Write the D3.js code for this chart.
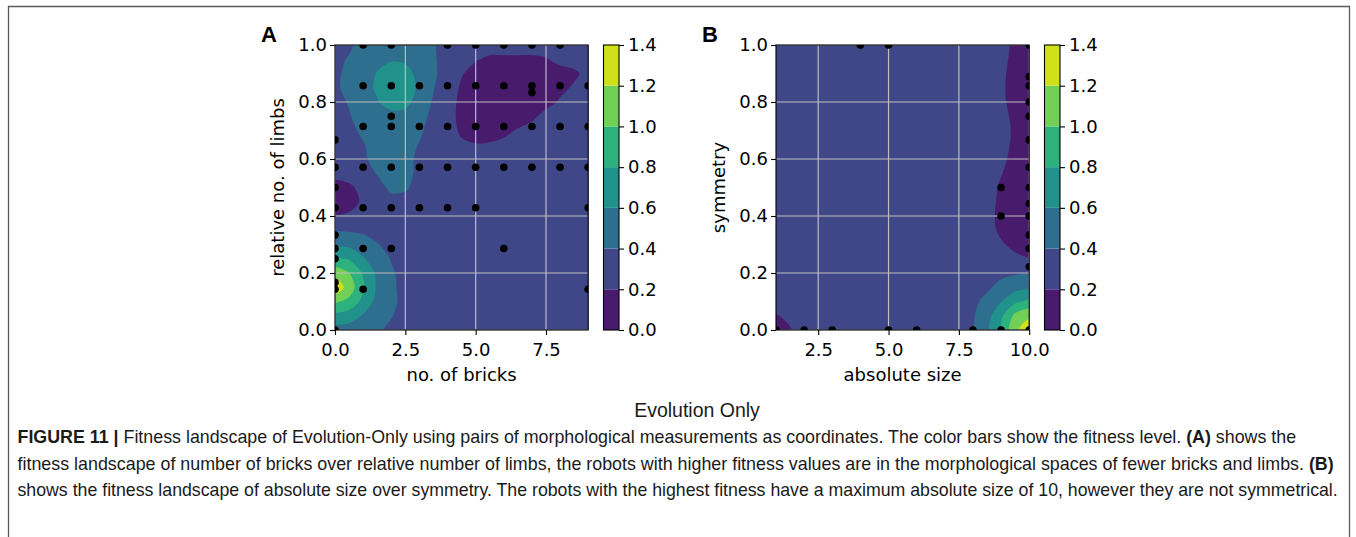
<!DOCTYPE html>
<html>
<head>
<meta charset="utf-8">
<script src="https://cdn.jsdelivr.net/npm/d3@7"></script>
<style>
  body { margin: 0; background: #fff; }
  .mpl text { font-family: "DejaVu Sans", sans-serif; font-size: 18px; fill: #000; }
  .cap text { font-family: "Liberation Sans", Arial, sans-serif; fill: #1a1a1a; }
</style>
</head>
<body>
<svg id="fig" width="1356" height="537"></svg>
<script>
// ---- data ----
const levels = [0, 0.2, 0.4, 0.6, 0.8, 1.0, 1.2, 1.4];

// panel A: fitness over no. of bricks (x 0..9, step 0.5) / relative no. of limbs (rows from y=1.0 down to 0.0, step 0.05)
const bricksRange = [0, 9];
const fitnessA = [
  [0.32,0.36,0.50,0.53,0.55,0.54,0.50,0.42,0.30,0.28,0.26,0.25,0.25,0.25,0.25,0.26,0.27,0.28,0.29],
  [0.34,0.42,0.50,0.55,0.58,0.56,0.50,0.43,0.30,0.26,0.21,0.18,0.18,0.18,0.18,0.19,0.24,0.27,0.29],
  [0.36,0.45,0.52,0.61,0.70,0.68,0.53,0.44,0.29,0.21,0.15,0.12,0.11,0.11,0.12,0.13,0.15,0.17,0.25],
  [0.37,0.45,0.55,0.62,0.72,0.68,0.57,0.41,0.28,0.18,0.12,0.10,0.10,0.10,0.10,0.12,0.16,0.22,0.28],
  [0.36,0.41,0.49,0.59,0.68,0.66,0.52,0.38,0.27,0.16,0.10,0.08,0.08,0.08,0.09,0.14,0.22,0.27,0.29],
  [0.33,0.39,0.46,0.52,0.54,0.53,0.47,0.35,0.27,0.15,0.10,0.08,0.08,0.09,0.16,0.26,0.28,0.29,0.30],
  [0.32,0.36,0.43,0.49,0.51,0.50,0.44,0.30,0.28,0.17,0.12,0.11,0.14,0.22,0.27,0.29,0.30,0.30,0.30],
  [0.30,0.33,0.39,0.46,0.49,0.47,0.39,0.30,0.29,0.23,0.21,0.22,0.26,0.29,0.30,0.30,0.30,0.30,0.30],
  [0.28,0.30,0.37,0.46,0.48,0.46,0.36,0.30,0.30,0.30,0.30,0.30,0.30,0.30,0.30,0.30,0.30,0.30,0.30],
  [0.25,0.27,0.33,0.41,0.46,0.44,0.37,0.30,0.30,0.30,0.30,0.30,0.30,0.30,0.30,0.30,0.30,0.30,0.30],
  [0.14,0.17,0.25,0.35,0.43,0.42,0.35,0.30,0.30,0.30,0.30,0.30,0.30,0.30,0.30,0.30,0.30,0.30,0.30],
  [0.10,0.15,0.22,0.30,0.36,0.35,0.32,0.30,0.30,0.30,0.30,0.30,0.30,0.30,0.30,0.30,0.30,0.30,0.30],
  [0.21,0.22,0.27,0.30,0.31,0.30,0.30,0.30,0.30,0.30,0.30,0.30,0.30,0.30,0.30,0.30,0.30,0.30,0.30],
  [0.39,0.38,0.36,0.33,0.31,0.30,0.30,0.30,0.30,0.30,0.30,0.30,0.30,0.30,0.30,0.30,0.30,0.30,0.30],
  [0.57,0.55,0.50,0.41,0.35,0.32,0.30,0.30,0.30,0.30,0.30,0.30,0.30,0.30,0.30,0.30,0.30,0.30,0.30],
  [0.83,0.78,0.62,0.50,0.39,0.33,0.30,0.30,0.30,0.30,0.30,0.30,0.30,0.30,0.30,0.30,0.30,0.30,0.30],
  [1.12,1.01,0.78,0.56,0.42,0.35,0.30,0.30,0.30,0.30,0.30,0.30,0.30,0.30,0.30,0.30,0.30,0.30,0.30],
  [1.35,1.11,0.83,0.57,0.43,0.35,0.30,0.30,0.30,0.30,0.30,0.30,0.30,0.30,0.30,0.30,0.30,0.30,0.30],
  [1.03,0.95,0.74,0.54,0.43,0.36,0.31,0.30,0.30,0.30,0.30,0.30,0.30,0.30,0.30,0.30,0.30,0.30,0.30],
  [0.74,0.70,0.58,0.48,0.41,0.34,0.30,0.30,0.30,0.30,0.30,0.30,0.30,0.30,0.30,0.30,0.30,0.30,0.30],
  [0.52,0.51,0.46,0.43,0.37,0.33,0.30,0.30,0.30,0.30,0.30,0.30,0.30,0.30,0.30,0.30,0.30,0.30,0.30]
];
const robotsA = [
  [1,1],[2,1],[4,1],[5,1],[6,1],[7,1],[8,1],
  [1,0.857],[2,0.857],[3,0.857],[4,0.857],[5,0.857],[6,0.857],[7,0.857],[8,0.857],[9,0.857],
  [7,0.833],[2,0.75],
  [1,0.714],[2,0.714],[3,0.714],[4,0.714],[5,0.714],[6,0.714],[7,0.714],[8,0.714],[9,0.714],
  [0,0.667],
  [0,0.571],[1,0.571],[2,0.571],[3,0.571],[4,0.571],[5,0.571],[6,0.571],[7,0.571],[8,0.571],[9,0.571],
  [0,0.5],
  [0,0.429],[1,0.429],[2,0.429],[3,0.429],[4,0.429],[5,0.429],[9,0.429],
  [0,0.333],
  [0,0.286],[1,0.286],[2,0.286],[6,0.286],
  [0,0.25],[0,0.167],
  [0,0.143],[1,0.143],[9,0.143],
  [0,0]
];

// panel B: fitness over absolute size (x 1..10, step 0.5) / symmetry (rows from 1.0 down to 0.0)
const sizeRange = [1, 10];
const fitnessB = [
  [0.30,0.30,0.30,0.30,0.30,0.30,0.30,0.30,0.30,0.30,0.30,0.30,0.30,0.30,0.30,0.30,0.28,0.15,0.10],
  [0.30,0.30,0.30,0.30,0.30,0.30,0.30,0.30,0.30,0.30,0.30,0.30,0.30,0.30,0.30,0.29,0.26,0.14,0.09],
  [0.30,0.30,0.30,0.30,0.30,0.30,0.30,0.30,0.30,0.30,0.30,0.30,0.30,0.30,0.30,0.28,0.24,0.13,0.09],
  [0.30,0.30,0.30,0.30,0.30,0.30,0.30,0.30,0.30,0.30,0.30,0.30,0.30,0.30,0.30,0.28,0.23,0.13,0.09],
  [0.30,0.30,0.30,0.30,0.30,0.30,0.30,0.30,0.30,0.30,0.30,0.30,0.30,0.30,0.30,0.28,0.24,0.13,0.09],
  [0.30,0.30,0.30,0.30,0.30,0.30,0.30,0.30,0.30,0.30,0.30,0.30,0.30,0.30,0.30,0.29,0.28,0.14,0.09],
  [0.30,0.30,0.30,0.30,0.30,0.30,0.30,0.30,0.30,0.30,0.30,0.30,0.30,0.30,0.30,0.30,0.29,0.16,0.10],
  [0.30,0.30,0.30,0.30,0.30,0.30,0.30,0.30,0.30,0.30,0.30,0.30,0.30,0.30,0.30,0.30,0.28,0.15,0.10],
  [0.30,0.30,0.30,0.30,0.30,0.30,0.30,0.30,0.30,0.30,0.30,0.30,0.30,0.30,0.30,0.29,0.25,0.13,0.09],
  [0.30,0.30,0.30,0.30,0.30,0.30,0.30,0.30,0.30,0.30,0.30,0.30,0.30,0.30,0.30,0.27,0.21,0.12,0.09],
  [0.30,0.30,0.30,0.30,0.30,0.30,0.30,0.30,0.30,0.30,0.30,0.30,0.30,0.30,0.30,0.30,0.17,0.12,0.10],
  [0.30,0.30,0.30,0.30,0.30,0.30,0.30,0.30,0.30,0.30,0.30,0.30,0.30,0.30,0.30,0.27,0.16,0.11,0.10],
  [0.30,0.30,0.30,0.30,0.30,0.30,0.30,0.30,0.30,0.30,0.30,0.30,0.30,0.30,0.30,0.25,0.16,0.11,0.10],
  [0.30,0.30,0.30,0.30,0.30,0.30,0.30,0.30,0.30,0.30,0.30,0.30,0.30,0.30,0.30,0.30,0.15,0.12,0.11],
  [0.30,0.30,0.30,0.30,0.30,0.30,0.30,0.30,0.30,0.30,0.30,0.30,0.30,0.30,0.30,0.30,0.23,0.14,0.12],
  [0.30,0.30,0.30,0.30,0.30,0.30,0.30,0.30,0.30,0.30,0.30,0.30,0.30,0.30,0.30,0.31,0.28,0.25,0.21],
  [0.30,0.30,0.30,0.30,0.30,0.30,0.30,0.30,0.30,0.30,0.30,0.30,0.30,0.30,0.30,0.32,0.36,0.38,0.39],
  [0.30,0.30,0.30,0.30,0.30,0.30,0.30,0.30,0.30,0.30,0.30,0.30,0.30,0.30,0.32,0.37,0.45,0.53,0.56],
  [0.28,0.30,0.30,0.30,0.30,0.30,0.30,0.30,0.30,0.30,0.30,0.30,0.30,0.31,0.36,0.45,0.59,0.76,0.84],
  [0.19,0.23,0.30,0.30,0.30,0.30,0.30,0.30,0.30,0.30,0.30,0.30,0.30,0.32,0.38,0.53,0.76,1.05,1.15],
  [0.12,0.19,0.28,0.30,0.30,0.30,0.30,0.30,0.30,0.30,0.30,0.30,0.30,0.32,0.39,0.56,0.83,1.14,1.36]
];
const robotsB = [
  [4,1],[5,1],[10,1],[10,0.889],[10,0.857],[10,0.8],[10,0.75],[10,0.667],[10,0.571],
  [10,0.5],[9,0.5],[10,0.444],[10,0.4],[9,0.4],[10,0.333],[10,0.286],[10,0.222],
  [1,0],[2,0],[3,0],[5,0],[6,0],[8,0],[9,0],[10,0]
];

const xTicksA = [0, 2.5, 5, 7.5];
const xTicksB = [2.5, 5, 7.5, 10];
const yTicks = [0, 0.2, 0.4, 0.6, 0.8, 1.0];

const captionLines = [
  [["FIGURE 11 | ", true], ["Fitness landscape of Evolution-Only using pairs of morphological measurements as coordinates. The color bars show the fitness level. ", false], ["(A)", true], [" shows the", false]],
  [["fitness landscape of number of bricks over relative number of limbs, the robots with higher fitness values are in the morphological spaces of fewer bricks and limbs. ", false], ["(B)", true]],
  [["shows the fitness landscape of absolute size over symmetry. The robots with the highest fitness have a maximum absolute size of 10, however they are not symmetrical.", false]]
];

// ---- drawing ----
const svg = d3.select("#fig");
const bandColor = k => d3.interpolateViridis((k + 0.5) / (levels.length - 1));
const fmt = d3.format(".1f");

// frame around the figure
svg.append("path")
  .attr("d", "M8.5,540 V6.5 H1349.5 V540")
  .attr("fill", "none").attr("stroke", "#5a5a5a").attr("stroke-width", 1.3);

function panel(opt) {
  const g = svg.append("g").attr("class", "mpl");
  const xs = d3.scaleLinear().domain(opt.xRange).range([opt.left, opt.left + 253.2]);
  const ys = d3.scaleLinear().domain([0, 1]).range([330, 45]);

  g.append("clipPath").attr("id", opt.id)
    .append("rect").attr("x", xs.range()[0]).attr("y", 45)
    .attr("width", 253.2).attr("height", 285);

  const body = g.append("g").attr("clip-path", `url(#${opt.id})`);

  // contour bands: pad grid by mirroring so the smoothed rings close outside the plot
  const rows = opt.grid;
  const nx = rows[0].length, ny = rows.length;
  const src = [rows[1], ...rows, rows[ny - 2]];
  const values = src.map(r => [r[1], ...r, r[nx - 2]]).flat();
  const stepX = (opt.xRange[1] - opt.xRange[0]) / (nx - 1);
  const stepY = 1 / (ny - 1);
  const toPx = p => [xs(opt.xRange[0] + (p[0] - 1.5) * stepX), ys(1 - (p[1] - 1.5) * stepY)];
  const ringLine = d3.line().curve(d3.curveCatmullRomClosed.alpha(0.5));

  body.append("rect")
    .attr("x", xs.range()[0] - 2).attr("y", 43).attr("width", 258).attr("height", 290)
    .attr("fill", bandColor(0));

  const bands = d3.contours().size([nx + 2, ny + 2])
    .thresholds(levels.slice(1, -1))(values);
  bands.forEach(b => {
    const k = levels.indexOf(b.value);
    const d = b.coordinates.map(poly => poly.map(ring => ringLine(ring.slice(0, -1).map(toPx))).join("")).join("");
    if (!d) return;
    body.append("path").attr("d", d).attr("fill", bandColor(k)).attr("fill-rule", "evenodd");
  });

  // grid
  body.selectAll(".gx").data(opt.xTicks).enter().append("line")
    .attr("x1", d => xs(d)).attr("x2", d => xs(d)).attr("y1", 45).attr("y2", 330)
    .attr("stroke", "#bdbdbd").attr("stroke-width", 1.2);
  body.selectAll(".gy").data(yTicks).enter().append("line")
    .attr("y1", d => ys(d)).attr("y2", d => ys(d)).attr("x1", xs.range()[0]).attr("x2", xs.range()[1])
    .attr("stroke", "#bdbdbd").attr("stroke-width", 1.2);

  // robots
  body.selectAll("circle").data(opt.dots).enter().append("circle")
    .attr("cx", d => xs(d[0])).attr("cy", d => ys(d[1])).attr("r", 3.8).attr("fill", "#000");

  // spines
  g.append("rect").attr("x", xs.range()[0]).attr("y", 45).attr("width", 253.2).attr("height", 285)
    .attr("fill", "none").attr("stroke", "#000").attr("stroke-width", 1.1);

  const xAxis = d3.axisBottom(xs).tickValues(opt.xTicks).tickFormat(fmt).tickSize(5).tickSizeOuter(0).tickPadding(8);
  const yAxis = d3.axisLeft(ys).tickValues(yTicks).tickFormat(fmt).tickSize(5).tickSizeOuter(0).tickPadding(3);
  const ax = g.append("g").attr("transform", "translate(0,330)").call(xAxis);
  const ay = g.append("g").attr("transform", `translate(${xs.range()[0]},0)`).call(yAxis);
  [ax, ay].forEach(a => {
    a.select(".domain").remove();
    a.selectAll("text").attr("font-family", null).attr("font-size", null);
    a.selectAll("line").attr("stroke", "#000").attr("stroke-width", 1.1);
  });

  g.append("text").attr("x", (xs.range()[0] + xs.range()[1]) / 2).attr("y", 381)
    .attr("text-anchor", "middle").text(opt.xLabel);
  g.append("text").attr("transform", `translate(${opt.left - 51.5},187.5) rotate(-90)`)
    .attr("text-anchor", "middle").text(opt.yLabel);

  // colour bar
  const cb = d3.scaleLinear().domain([0, 1.4]).range([330, 45]);
  const cbx = opt.left + 268.5;
  g.selectAll(".band").data(levels.slice(0, -1)).enter().append("rect")
    .attr("x", cbx).attr("width", 15.5)
    .attr("y", (d, i) => cb(levels[i + 1])).attr("height", (d, i) => cb(levels[i]) - cb(levels[i + 1]))
    .attr("fill", (d, i) => bandColor(i));
  g.append("rect").attr("x", cbx).attr("y", 45).attr("width", 15.5).attr("height", 285)
    .attr("fill", "none").attr("stroke", "#000").attr("stroke-width", 1.1);
  const cAxis = g.append("g").attr("transform", `translate(${cbx + 15.5},0)`)
    .call(d3.axisRight(cb).tickValues(levels).tickFormat(fmt).tickSize(5).tickSizeOuter(0).tickPadding(4));
  cAxis.select(".domain").remove();
  cAxis.selectAll("text").attr("font-family", null).attr("font-size", null);
  cAxis.selectAll("line").attr("stroke", "#000").attr("stroke-width", 1.1);

  svg.append("text").attr("x", opt.left - 74).attr("y", 42)
    .attr("font-family", "'Liberation Sans', Arial, sans-serif").attr("font-weight", "bold")
    .attr("font-size", 22).text(opt.letter);
}

panel({ id: "clipA", letter: "A", left: 335, xRange: bricksRange, grid: fitnessA, dots: robotsA,
        xTicks: xTicksA, xLabel: "no. of bricks", yLabel: "relative no. of limbs" });
panel({ id: "clipB", letter: "B", left: 776, xRange: sizeRange, grid: fitnessB, dots: robotsB,
        xTicks: xTicksB, xLabel: "absolute size", yLabel: "symmetry" });

// figure title + caption
const cap = svg.append("g").attr("class", "cap");
cap.append("text").attr("x", 697).attr("y", 416.5).attr("text-anchor", "middle")
  .attr("font-size", 19.5).text("Evolution Only");

const lineEnds = [1297, 1335, 1338];
captionLines.forEach((parts, i) => {
  const t = cap.append("text").attr("x", 0).attr("y", 0).attr("font-size", 17.5);
  parts.forEach(p => t.append("tspan").attr("font-weight", p[1] ? "bold" : null).text(p[0]));
  const w = t.node().getComputedTextLength();
  const sx = (lineEnds[i] - 17.5) / w;
  t.attr("transform", `translate(17.5,${443 + i * 26.6}) scale(${sx},1)`);
});
</script>
</body>
</html>
